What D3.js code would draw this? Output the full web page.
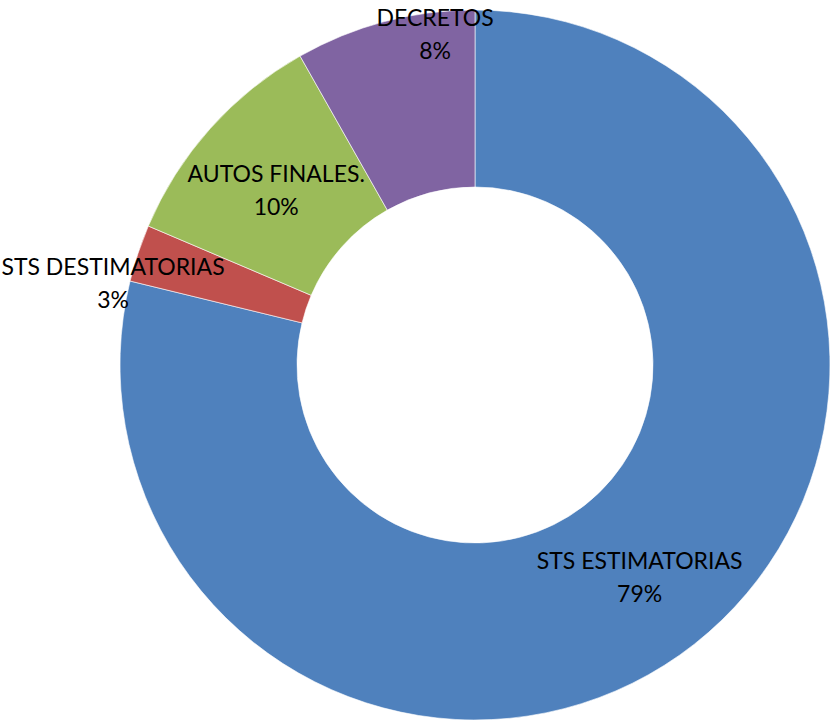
<!DOCTYPE html>
<html>
<head>
<meta charset="utf-8">
<script src="https://cdn.jsdelivr.net/npm/d3@7"></script>
<style>
  html, body { margin: 0; padding: 0; background: #fff; }
  svg { display: block; }
</style>
</head>
<body>
<svg id="chart" width="834" height="723"></svg>
<script>
const categories = ["STS ESTIMATORIAS", "STS DESTIMATORIAS", "AUTOS FINALES.", "DECRETOS"];
const values = [78.8, 2.6, 10.4, 8.2];
const colors = ["#4F81BD", "#C0504D", "#9BBB59", "#8064A2"];
// label nudges relative to the slice centroid (Excel moved some labels)
const labelShift = [[0, 0], [-109, 0], [0, 0], [28, -75]];

const svg = d3.select("#chart");
const cx = 475, cy = 365, outerR = 355, innerR = 178;
const g = svg.append("g").attr("transform", `translate(${cx},${cy})`);

const data = categories.map((c, i) => ({ cat: c, value: values[i], i }));
const total = d3.sum(values);
const pie = d3.pie().value(d => d.value).sort(null);
const arc = d3.arc().innerRadius(innerR).outerRadius(outerR);
const color = d3.scaleOrdinal().domain(categories).range(colors);

const arcs = pie(data);

g.selectAll("path.slice")
  .data(arcs)
  .enter().append("path")
  .attr("class", "slice")
  .attr("d", arc)
  .attr("fill", d => color(d.data.cat))
  .attr("stroke", "#fff")
  .attr("stroke-width", 0.6);

const fmt = v => Math.round(v / total * 100) + "%";

const labels = g.selectAll("g.lbl")
  .data(arcs)
  .enter().append("g")
  .attr("class", "lbl")
  .attr("transform", d => {
    const c = arc.centroid(d);
    const s = labelShift[d.data.i];
    return `translate(${c[0] + s[0]},${c[1] + s[1]})`;
  });

labels.append("text")
  .attr("text-anchor", "middle")
  .attr("y", -6)
  .attr("font-family", "Lato, 'Open Sans', sans-serif")
  .attr("font-size", 23)
  .attr("fill", "#000")
  .text(d => d.data.cat);

labels.append("text")
  .attr("text-anchor", "middle")
  .attr("y", 27)
  .attr("font-family", "Lato, 'Open Sans', sans-serif")
  .attr("font-size", 23)
  .attr("fill", "#000")
  .text(d => fmt(d.data.value));
</script>
</body>
</html>
